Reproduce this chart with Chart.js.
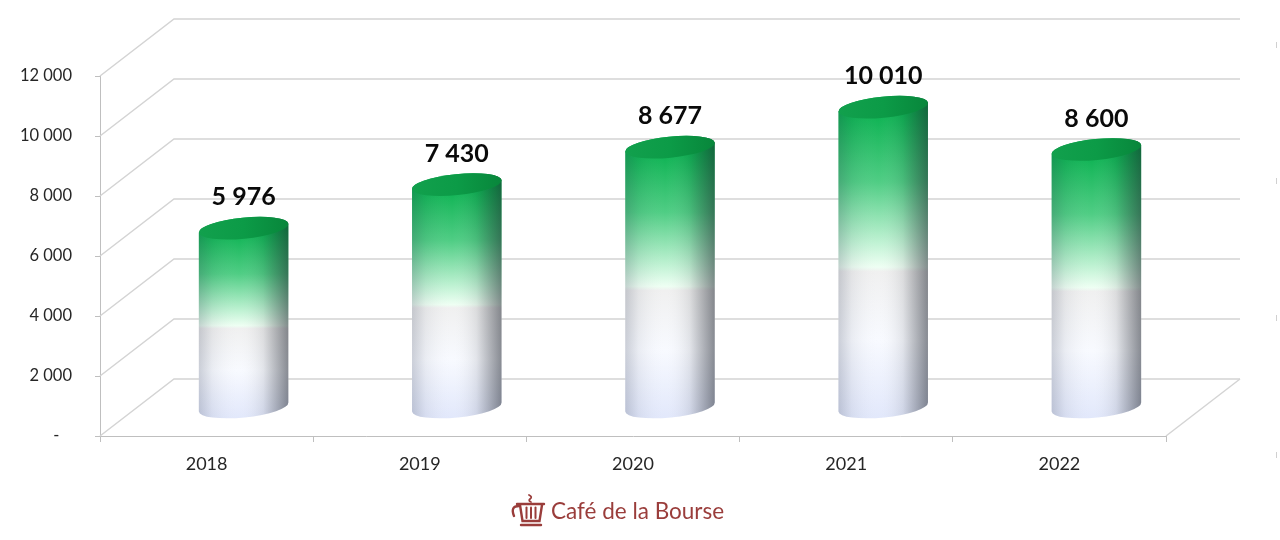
<!DOCTYPE html>
<html>
<head>
<meta charset="utf-8">
<script src="https://cdn.jsdelivr.net/npm/chart.js@4.4.0/dist/chart.umd.min.js"></script>
<style>
  html, body { margin: 0; padding: 0; background: #fff; }
</style>
</head>
<body>
<canvas id="graph" width="1280" height="540"></canvas>
<script>
const years = ["2018", "2019", "2020", "2021", "2022"];
const values = [5976, 7430, 8677, 10010, 8600];
const yTicks = [0, 2000, 4000, 6000, 8000, 10000, 12000];

// depth of the 3d box (back wall offset)
const DEPTH_X = 74, DEPTH_Y = -57;

function fmt(v) {
  if (v === 0) return "-   ";
  return String(v).replace(/\B(?=(\d{3})+(?!\d))/g, " ");
}

const wallPlugin = {
  id: "wall",
  beforeDatasetsDraw(chart) {
    const ctx = chart.ctx, a = chart.chartArea, y = chart.scales.y;
    ctx.save();
    ctx.strokeStyle = "#d4d4d4";
    ctx.lineWidth = 1.5;
    yTicks.forEach(v => {
      const py = y.getPixelForValue(v);
      ctx.beginPath();
      ctx.moveTo(a.left, py);
      ctx.lineTo(a.left + DEPTH_X, py + DEPTH_Y);
      ctx.lineTo(a.right + DEPTH_X, py + DEPTH_Y);
      ctx.stroke();
    });
    ctx.beginPath();
    ctx.moveTo(a.right, a.bottom);
    ctx.lineTo(a.right + DEPTH_X, a.bottom + DEPTH_Y);
    ctx.stroke();
    // small marks on the right edge
    ctx.strokeStyle = "#d0d0d0";
    ctx.lineWidth = 1;
    [45, 181, 318, 455].forEach(py => {
      ctx.beginPath();
      ctx.moveTo(1276.5, py - 3);
      ctx.lineTo(1276.5, py + 3);
      ctx.stroke();
    });
    ctx.restore();
  }
};

const cylPlugin = {
  id: "cyl",
  afterDatasetsDraw(chart) {
    const ctx = chart.ctx;
    const meta = chart.getDatasetMeta(0);
    meta.data.forEach((bar, i) => {
      const p = bar.getProps(["x", "y", "base", "width"], true);
      const cx = p.x + DEPTH_X / 2;
      const top = p.y + DEPTH_Y / 2;
      const bot = p.base + DEPTH_Y / 2;
      const rx = p.width / 2, ry = 10.5, rot = -0.1;

      ctx.save();
      // body
      ctx.beginPath();
      ctx.ellipse(cx, bot, rx, ry, rot, Math.PI, 0, true);
      ctx.ellipse(cx, top, rx, ry, rot, 0, Math.PI, true);
      ctx.closePath();
      const g = ctx.createLinearGradient(0, bot + ry, 0, top);
      g.addColorStop(0, "#e2e8fb");
      g.addColorStop(0.25, "#f8faff");
      g.addColorStop(0.47, "#f0f0f0");
      g.addColorStop(0.485, "#eefff3");
      g.addColorStop(0.56, "#c2f3d5");
      g.addColorStop(0.76, "#4fcd84");
      g.addColorStop(1, "#07b04e");
      ctx.fillStyle = g;
      ctx.fill();
      const h = ctx.createLinearGradient(cx - rx, 0, cx + rx, 0);
      h.addColorStop(0, "rgba(40,50,75,0.22)");
      h.addColorStop(0.15, "rgba(40,50,75,0.07)");
      h.addColorStop(0.45, "rgba(255,255,255,0)");
      h.addColorStop(0.72, "rgba(30,35,45,0.1)");
      h.addColorStop(1, "rgba(30,35,45,0.52)");
      ctx.fillStyle = h;
      ctx.fill();

      // top cap
      ctx.beginPath();
      ctx.ellipse(cx, top, rx, ry, rot, 0, Math.PI * 2);
      const t = ctx.createLinearGradient(cx - rx, 0, cx + rx, 0);
      t.addColorStop(0, "#12a04d");
      t.addColorStop(0.5, "#0c9b47");
      t.addColorStop(1, "#08863b");
      ctx.fillStyle = t;
      ctx.fill();

      // value label
      ctx.font = "bold 25px Lato";
      ctx.fillStyle = "#0a0a0a";
      ctx.textAlign = "center";
      ctx.textBaseline = "middle";
      ctx.fillText(fmt(values[i]), cx, top - 31);
      ctx.restore();
    });
  }
};

const logoPlugin = {
  id: "logo",
  afterDraw(chart) {
    const ctx = chart.ctx;
    const col = "#9a3d3b";
    ctx.save();
    ctx.strokeStyle = col;
    ctx.fillStyle = col;
    ctx.lineCap = "round";
    ctx.lineWidth = 2.4;
    // rim
    ctx.beginPath();
    ctx.moveTo(517, 504);
    ctx.lineTo(544, 504);
    ctx.stroke();
    // body
    ctx.beginPath();
    ctx.moveTo(520, 505);
    ctx.lineTo(522.5, 521);
    ctx.lineTo(539.5, 521);
    ctx.lineTo(542, 505);
    ctx.stroke();
    // stripes
    ctx.lineWidth = 2;
    [526.5, 531, 535.5].forEach(x => {
      ctx.beginPath();
      ctx.moveTo(x, 507.5);
      ctx.lineTo(x, 518);
      ctx.stroke();
    });
    // base
    ctx.lineWidth = 2.4;
    ctx.beginPath();
    ctx.moveTo(521, 525);
    ctx.lineTo(541, 525);
    ctx.stroke();
    // handle
    ctx.beginPath();
    ctx.moveTo(519, 506);
    ctx.quadraticCurveTo(510, 506, 514, 516);
    ctx.stroke();
    // knob
    ctx.lineWidth = 1.8;
    ctx.beginPath();
    ctx.moveTo(529, 495);
    ctx.quadraticCurveTo(533, 497, 530, 499);
    ctx.quadraticCurveTo(528, 501, 531, 502);
    ctx.stroke();
    // name
    ctx.font = "22.5px Lato";
    ctx.textAlign = "left";
    ctx.textBaseline = "middle";
    ctx.fillText("Café de la Bourse", 551, 512);
    ctx.restore();
  }
};

new Chart(document.getElementById("graph").getContext("2d"), {
  type: "bar",
  data: {
    labels: years,
    datasets: [
      {
        data: values,
        backgroundColor: "transparent",
        borderWidth: 0,
        barPercentage: 0.422,
        categoryPercentage: 1,
      },
    ],
  },
  options: {
    responsive: false,
    animation: false,
    layout: { padding: { top: 76, right: 114, left: 0, bottom: 0 } },
    plugins: {
      legend: { display: false },
      tooltip: { enabled: false },
    },
    scales: {
      x: {
        grid: { drawOnChartArea: false, drawTicks: true, tickLength: 6, color: "#bfbfbf", offset: true },
        border: { color: "#bfbfbf" },
        ticks: { color: "#262626", font: { family: "Lato", size: 18 }, padding: 11 },
        afterFit(s) { s.height = 104; },
      },
      y: {
        min: 0,
        max: 12000,
        afterBuildTicks(s) { s.ticks = yTicks.map(v => ({ value: v })); },
        grid: { drawOnChartArea: false, tickLength: 5, color: "#bfbfbf" },
        border: { color: "#bfbfbf" },
        ticks: { color: "#262626", font: { family: "Lato", size: 16.5 }, padding: 23, callback: v => fmt(v) },
        afterFit(s) { s.width = 100; },
      },
    },
  },
  plugins: [wallPlugin, cylPlugin, logoPlugin],
});
</script>
</body>
</html>
